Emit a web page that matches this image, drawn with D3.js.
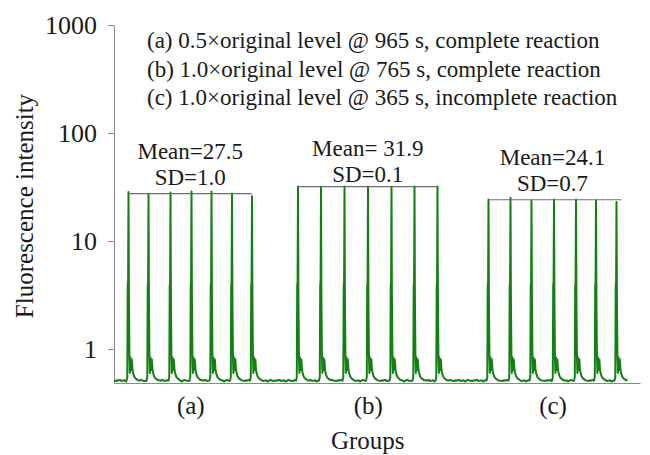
<!DOCTYPE html>
<html>
<head>
<meta charset="utf-8">
<script src="https://cdn.jsdelivr.net/npm/d3@7"></script>
<style>
  html, body { margin: 0; padding: 0; background: #fff; }
  svg { display: block; }
  svg text { font-family: "Liberation Serif", "Times New Roman", "DejaVu Serif", serif; }
</style>
</head>
<body>
<svg id="chart" width="650" height="455"></svg>
<script>
// Group identifiers and legend descriptions
const groups = ["(a)", "(b)", "(c)"];
const legendLines = [
  "(a) 0.5×original level @ 965 s, complete reaction",
  "(b) 1.0×original level @ 765 s, complete reaction",
  "(c) 1.0×original level @ 365 s, incomplete reaction"
];
const groupMeans = [27.5, 31.9, 24.1];
const meanLabels = ["Mean=27.5", "Mean= 31.9", "Mean=24.1"];
const sdLabels = ["SD=1.0", "SD=0.1", "SD=0.7"];

// Peak times (s) and peak fluorescence for each group
const peakTimesA = [29, 69, 113, 155, 195, 236, 276];
const peakTimesB = [368, 414, 461, 508, 555, 601, 647];
const peakTimesC = [749, 793, 835, 880, 924, 964, 1005];
const peakHeightsA = [28.4, 27.2, 28.2, 28.8, 28.7, 27.6, 26.0];
const peakHeightsB = [32.0, 31.8, 31.9, 32.0, 31.8, 31.9, 31.9];
const peakHeightsC = [24.3, 25.2, 23.9, 24.3, 24.2, 23.8, 23.0];

// Shape of one droplet signal around its apex (time offset in s, intensity)
const shapeOffsets = [-4, -2.4, -1.6, -0.8, 0, 0.8, 1.8, 2.8, 3.8, 4.8, 5.8, 6.8, 8, 10, 12, 15, 19];
const shapeValues  = [0.51, 0.55, 3.8, 4.3, null, 3.2, 0.9, 0.6, 0.84, 0.7, 0.64, 0.8, 0.64, 0.58, 0.55, 0.53, 0.515];

// Background level readings between droplets
const baselineLevels = [0.51, 0.505, 0.515, 0.51, 0.52, 0.505, 0.51, 0.515, 0.5, 0.51, 0.52, 0.51];

const yTicks = [1, 10, 100, 1000];
const traceStart = 0, traceEnd = 1030;

const svg = d3.select("#chart");
const margin = { left: 114, right: 10, top: 25, bottom: 72 };
const W = 650, H = 455;
const serif = '"Liberation Serif", "Times New Roman", "DejaVu Serif", serif';
const textColor = "#1a1a1a";

const x = d3.scaleLinear().domain([0, 1052]).range([margin.left, W - margin.right]);
const y = d3.scaleLog().domain([0.485, 1000]).range([H - margin.bottom, margin.top]);

// Assemble the trace
const peakTimes = [peakTimesA, peakTimesB, peakTimesC];
const peakHeights = [peakHeightsA, peakHeightsB, peakHeightsC];
const allPeaks = [];
peakTimes.forEach((ts, g) => ts.forEach((t, i) => allPeaks.push({ t, h: peakHeights[g][i] })));

const trace = [];
let bi = 0;
function fillBaseline(t0, t1) {
  for (let t = t0; t < t1; t += 3) {
    trace.push([t, baselineLevels[bi % baselineLevels.length]]);
    bi++;
  }
}
let cursor = traceStart;
allPeaks.forEach(p => {
  fillBaseline(cursor, p.t + shapeOffsets[0]);
  shapeOffsets.forEach((o, k) => {
    trace.push([p.t + o, shapeValues[k] === null ? p.h : shapeValues[k]]);
  });
  cursor = p.t + shapeOffsets[shapeOffsets.length - 1] + 3;
});
fillBaseline(cursor, traceEnd);

// Axes
const axisColor = "#8a8a8a";
const yAxis = svg.append("g")
  .attr("transform", `translate(${margin.left},0)`)
  .call(d3.axisLeft(y).tickValues(yTicks).tickFormat(d3.format("d")).tickSize(6).tickSizeOuter(0));
yAxis.attr("font-family", serif);
yAxis.select(".domain").attr("stroke", axisColor);
yAxis.selectAll(".tick line").attr("stroke", axisColor);
yAxis.selectAll(".tick text")
  .attr("x", -17)
  .attr("font-size", 26)
  .attr("font-family", serif)
  .attr("fill", textColor);

const groupCenters = peakTimes.map(ts => (ts[0] + ts[ts.length - 1]) / 2);
const xAxis = svg.append("g")
  .attr("transform", `translate(0,${H - margin.bottom})`)
  .call(d3.axisBottom(x).tickValues(groupCenters).tickFormat((d, i) => groups[i]).tickSize(0).tickSizeOuter(0));
xAxis.attr("font-family", serif);
xAxis.select(".domain").attr("stroke", axisColor);
xAxis.selectAll(".tick text")
  .attr("dy", "1.1em")
  .attr("font-size", 25)
  .attr("font-family", serif)
  .attr("fill", textColor);

// Trace
svg.append("path")
  .datum(trace)
  .attr("fill", "none")
  .attr("stroke", "#128012")
  .attr("stroke-width", 2)
  .attr("stroke-linejoin", "round")
  .attr("d", d3.line().x(d => x(d[0])).y(d => y(d[1])));

// Mean lines with their labels above
const labelLift = [35, 31, 35];
peakTimes.forEach((ts, g) => {
  svg.append("line")
    .attr("x1", x(ts[0])).attr("x2", x(ts[ts.length - 1]) + (g === 2 ? 5 : 0))
    .attr("y1", y(groupMeans[g])).attr("y2", y(groupMeans[g]))
    .attr("stroke", "#6e6e6e").attr("stroke-width", 1.2);
  const cx = x(groupCenters[g]);
  const ty = y(groupMeans[g]) - labelLift[g];
  svg.append("text").attr("x", cx).attr("y", ty)
    .attr("text-anchor", "middle").attr("font-size", 23).attr("font-family", serif).attr("fill", textColor)
    .text(meanLabels[g]);
  svg.append("text").attr("x", cx).attr("y", ty + 26)
    .attr("text-anchor", "middle").attr("font-size", 23).attr("font-family", serif).attr("fill", textColor)
    .text(sdLabels[g]);
});

// Legend text
legendLines.forEach((s, i) => {
  svg.append("text").attr("x", 147).attr("y", 48 + i * 28.5)
    .attr("font-size", 23).attr("font-family", serif).attr("fill", textColor).text(s);
});

// Axis titles
svg.append("text")
  .attr("transform", `translate(33,${(margin.top + H - margin.bottom) / 2 + 2}) rotate(-90)`)
  .attr("text-anchor", "middle").attr("font-size", 25).attr("font-family", serif).attr("fill", textColor)
  .text("Fluorescence intensity");
svg.append("text")
  .attr("x", x(groupCenters[1])).attr("y", 449)
  .attr("text-anchor", "middle").attr("font-size", 25).attr("font-family", serif).attr("fill", textColor)
  .text("Groups");
</script>
</body>
</html>
